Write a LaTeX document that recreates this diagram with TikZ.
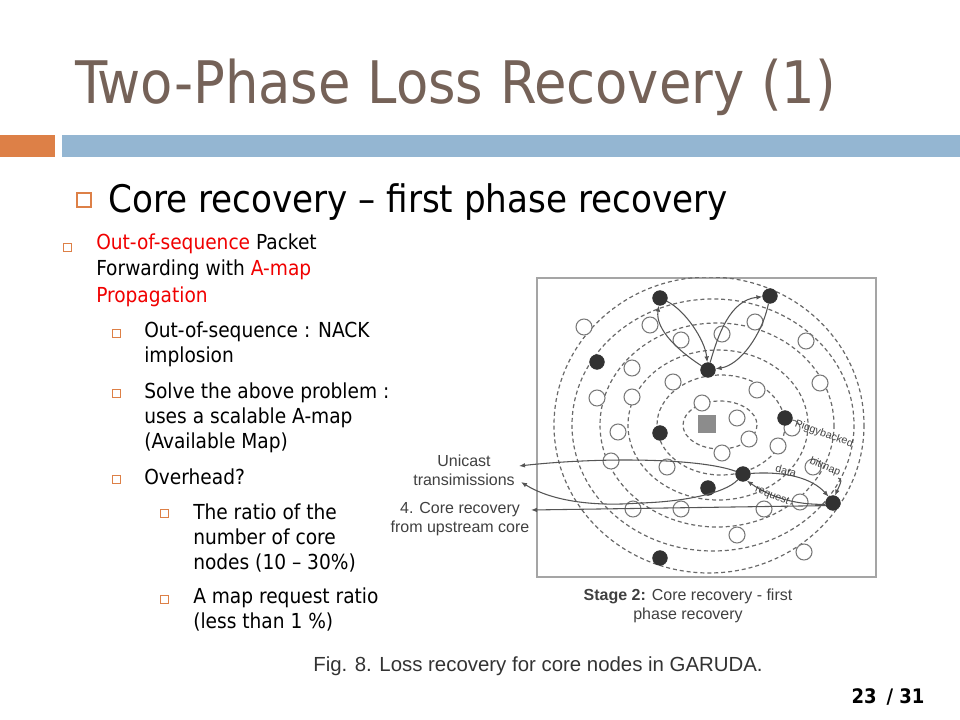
\documentclass[tikz,border=0pt]{standalone}
\usepackage{fontspec}
\setmainfont{DejaVu Sans Condensed}
\newfontfamily\figfont{Liberation Sans}
\usepackage{tikz}
\usetikzlibrary{arrows.meta, positioning}

\definecolor{titlebrown}{RGB}{117,98,88}
\definecolor{barorange}{RGB}{221,128,71}
\definecolor{barblue}{RGB}{148,182,210}
\definecolor{alertred}{RGB}{240,0,0}
\definecolor{ringgray}{RGB}{105,105,105}
\definecolor{nodegray}{RGB}{120,120,120}
\definecolor{corefill}{RGB}{50,50,50}
\definecolor{framegray}{RGB}{165,165,165}
\definecolor{sinkgray}{RGB}{140,140,140}
\definecolor{linkgray}{RGB}{85,85,85}

\begin{document}
\begin{tikzpicture}[
  >={Latex[length=4.5pt,width=3.5pt]},
  x=0.75pt, y=-0.75pt, % 像素坐标:原点在左上角,y 向下
  bulletbox/.style={draw=barorange, line width=0.5pt, minimum size=#1, inner sep=0pt},
  bodytext/.style={anchor=base west, inner sep=0pt, font=\fontsize{15.5}{18}\selectfont},
  ring/.style={draw=ringgray, dash pattern=on 3pt off 2.2pt, line width=0.9pt},
  hnode/.style={circle, draw=nodegray, fill=white, line width=0.8pt, minimum size=12pt, inner sep=0pt},
  cnode/.style={circle, draw=black!80, fill=corefill, line width=0.5pt, minimum size=11pt, inner sep=0pt},
  link/.style={->, draw=linkgray, line width=0.8pt},
  figlabel/.style={font=\figfont\fontsize{12}{14.5}\selectfont, text=black!75, align=center, inner sep=0pt},
  arclabel/.style={font=\figfont\fontsize{8}{10}\selectfont, text=black!75, inner sep=0pt}
]
  \useasboundingbox (0,0) rectangle (960,720);

  % 标题与色条
  \node[anchor=base west, inner sep=0pt, font=\fontsize{44}{48}\selectfont, text=titlebrown] (title) at (75,104) {Two-Phase Loss Recovery (1)};
  \fill[barorange] (0,135) rectangle (55,157);
  \fill[barblue] (62,135) rectangle (960,157);

  % 一级要点
  \node[bulletbox=10.5pt, line width=0.8pt] (b0) at (84,200) {};
  \node[anchor=base west, inner sep=0pt, font=\fontsize{28.5}{32}\selectfont] (head) at (108,213) {Core recovery – first phase recovery};

  % 左侧要点方框
  \foreach \n/\x/\y in {b1/67/247, b2/116/333, b3/116/393, b4/116/479, b5/164/513, b6/164/599} {
    \node[bulletbox=6pt] (\n) at (\x,\y) {};
  }

  % 左侧文字(逐行)
  \foreach \n/\x/\y/\t in {
      l1/96/250/{{\color{alertred}Out-of-sequence} Packet},
      l2/96/276/{Forwarding with {\color{alertred}A-map}},
      l3/96/302/{\color{alertred}Propagation},
      l4/144/337/{Out-of-sequence : NACK},
      l5/144/362/{implosion},
      l6/144/398/{Solve the above problem :},
      l7/144/423/{uses a scalable A-map},
      l8/144/448/{(Available Map)},
      l9/144/484/{Overhead?},
      l10/193/519/{The ratio of the},
      l11/193/544/{number of core},
      l12/193/569/{nodes (10 – 30\%)},
      l13/193/603/{A map request ratio},
      l14/193/628/{(less than 1 \%)}} {
    \node[bodytext] (\n) at (\x,\y) {\t};
  }

  % 图框与虚线环
  \draw[framegray, line width=1.1pt] (537,278) rectangle (876,577);
  \begin{scope}
    \clip (537,278) rectangle (876,577);
    \foreach \cx/\rx/\ry in {720/37/24, 721/64/50, 718/90/75, 717/117/102, 713/141/126, 709/155/148} {
      \draw[ring] (\cx,425) ellipse [x radius=\rx, y radius=\ry];
    }
  \end{scope}

  % 汇聚点
  \node[rectangle, fill=sinkgray, minimum size=13.5pt, inner sep=0pt] (sink) at (707,424) {};

  % 普通节点(空心)
  \foreach \n/\x/\y in {h1/584/327, h2/650/325, h3/681/340, h4/722/334, h5/755/322, h6/806/341,
      h7/632/368, h8/673/382, h9/757/390, h10/820/383, h11/597/398, h12/632/397, h13/702/403,
      h14/737/418, h15/618/432, h16/611/461, h17/667/467, h18/722/453, h19/749/439, h20/778/446,
      h21/813/467, h22/633/509, h23/681/509, h24/764/509, h25/800/502, h26/737/535, h27/804/552,
      h28/792/428} {
    \node[hnode] (\n) at (\x,\y) {};
  }

  % 核心节点(实心)
  \foreach \n/\x/\y in {c1/660/298, c2/770/296, c3/597/362, c4/708/370, c5/785/418,
      c6/660/433, c7/743/474, c8/708/488, c9/833/503, c10/660/558} {
    \node[cnode] (\n) at (\x,\y) {};
  }

  % 上方两组往返箭头
  \draw[link] (c1) .. controls (685,310) and (705,340) .. (c4);
  \draw[link] (c4) .. controls (680,352) and (655,330) .. (c1);
  \draw[link] (c4) .. controls (718,335) and (730,300) .. (c2);
  \draw[link] (c2) .. controls (762,335) and (740,365) .. (c4);

  % 左侧标注
  \node[figlabel] (uni) at (464,470) {Unicast\\transimissions};
  \node[figlabel] (upc) at (460,519) {4. Core recovery\\from upstream core};
  \coordinate (uA) at (519,466);
  \coordinate (uB) at (521,482);
  \coordinate (uC) at (531,510);

  % 下方连线
  \draw[link] (c7) .. controls (700,458) and (600,457) .. (uA);
  \draw[link] (c7) .. controls (725,494) and (680,502) .. (640,503)
                   .. controls (590,507) and (550,500) .. (uB);
  \draw[link] (c9.200) -- (uC);
  \draw[link] (c7) .. controls (785,471) and (812,478) .. (c9.125);
  \draw[link] (c9.190) .. controls (795,505) and (770,497) .. (c7.300);

  % 箭头文字
  \node[arclabel, rotate=-20] (pig) at (824,434) {Piggybacked};
  \node[arclabel, rotate=-22] (bmp) at (825,467) {bitmap};
  \node[arclabel, rotate=-15] (dat) at (786,471) {data};
  \node[arclabel, rotate=-22] (req) at (772,496) {request};
  \draw[link] (bmp.south east) .. controls (842,480) .. (c9.75);

  % 图题
  \node[figlabel, font=\figfont\fontsize{12}{14.5}\selectfont] (stage) at (688,606) {\textbf{Stage 2:} Core recovery - first\\phase recovery};
  \node[figlabel, font=\figfont\fontsize{15.3}{18}\selectfont, text=black!80] (figcap) at (538,666) {Fig. 8. Loss recovery for core nodes in GARUDA.};

  % 页码
  \node[inner sep=0pt, font=\bfseries\fontsize{15}{18}\selectfont] (pnum) at (888,697) {23\enspace/ 31};
\end{tikzpicture}
\end{document}
